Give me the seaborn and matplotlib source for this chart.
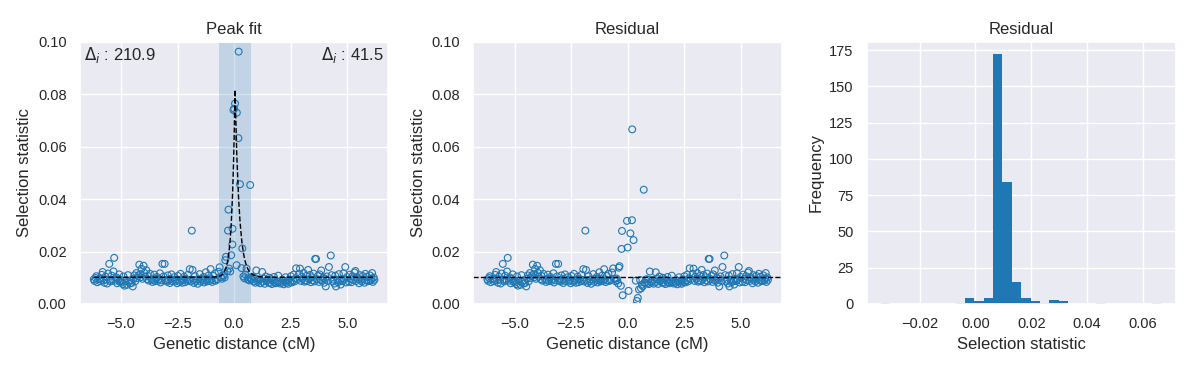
import numpy as np
import pandas as pd
import matplotlib
matplotlib.use("Agg")
import matplotlib.pyplot as plt
from matplotlib.ticker import MultipleLocator
import seaborn as sns

# genetic distance (cM) and selection statistic
dist_left = [
    -6.20, -6.17, -6.12, -6.09, -6.05, -5.97, -5.92, -5.89, -5.85,
    -5.81, -5.77, -5.73, -5.69, -5.64, -5.61, -5.57, -5.52, -5.48, -5.45,
    -5.41, -5.36, -5.33, -5.30, -5.25, -5.20, -5.17, -5.13, -5.08, -5.05,
    -5.01, -4.97, -4.92, -4.89, -4.85, -4.81, -4.73, -4.69, -4.65,
    -4.60, -4.57, -4.53, -4.48, -4.45, -4.41, -4.37, -4.32, -4.29, -4.25,
    -4.19, -4.16, -4.13, -4.09, -4.05, -4.00, -3.97, -3.93, -3.88, -3.85,
    -3.81, -3.77, -3.72, -3.65, -3.61, -3.56, -3.53, -3.49, -3.44,
    -3.41, -3.37, -3.33, -3.28, -3.25, -3.21, -3.17, -3.12, -3.07, -3.04,
    -3.01, -2.96, -2.93, -2.89, -2.84, -2.81, -2.77, -2.73, -2.65,
    -2.61, -2.57, -2.52, -2.49, -2.40, -2.37, -2.33, -2.29, -2.24,
    -2.21, -2.17, -2.13, -2.08, -2.05, -2.01, -1.96, -1.93, -1.87, -1.84,
    -1.80, -1.77, -1.73, -1.69, -1.64, -1.61, -1.52, -1.49, -1.45,
    -1.41, -1.36, -1.33, -1.29, -1.25, -1.20, -1.17, -1.13, -1.08, -1.04,
    -1.01, -0.97, -0.92, -0.89, -0.85, -0.81, -0.76, -0.69, -0.64,
]
stat_left = [
    0.0094, 0.0088, 0.0099, 0.0106, 0.0083, 0.0095, 0.0087, 0.0096, 0.0111,
    0.0122, 0.0090, 0.0081, 0.0104, 0.0093, 0.0078, 0.0116, 0.0153, 0.0092, 0.0086,
    0.0108, 0.0092, 0.0124, 0.0176, 0.0089, 0.0101, 0.0079, 0.0095, 0.0113, 0.0084,
    0.0091, 0.0082, 0.0076, 0.0105, 0.0070, 0.0088, 0.0073, 0.0110, 0.0085,
    0.0078, 0.0091, 0.0080, 0.0067, 0.0096, 0.0109, 0.0087, 0.0118, 0.0099, 0.0106,
    0.0150, 0.0114, 0.0102, 0.0134, 0.0096, 0.0146, 0.0119, 0.0104, 0.0129, 0.0095,
    0.0107, 0.0089, 0.0115, 0.0094, 0.0084, 0.0092, 0.0112, 0.0087, 0.0096,
    0.0103, 0.0088, 0.0095, 0.0117, 0.0082, 0.0090, 0.0153, 0.0105, 0.0153, 0.0089,
    0.0092, 0.0085, 0.0109, 0.0091, 0.0080, 0.0096, 0.0113, 0.0087, 0.0102,
    0.0086, 0.0093, 0.0079, 0.0107, 0.0084, 0.0115, 0.0090, 0.0081, 0.0094,
    0.0104, 0.0083, 0.0095, 0.0088, 0.0111, 0.0092, 0.0133, 0.0086, 0.0280, 0.0130,
    0.0091, 0.0080, 0.0106, 0.0087, 0.0093, 0.0077, 0.0114, 0.0085, 0.0096,
    0.0089, 0.0103, 0.0082, 0.0091, 0.0121, 0.0086, 0.0094, 0.0108, 0.0088, 0.0133,
    0.0095, 0.0084, 0.0107, 0.0090, 0.0116, 0.0089, 0.0094, 0.0123, 0.0140,
]
dist_peak = [
    -0.58, -0.54, -0.50, -0.46, -0.42, -0.39, -0.36, -0.30, -0.27, -0.25,
    -0.22, -0.17, -0.13, -0.08, -0.07, -0.03, 0.00, 0.04, 0.11, 0.12,
    0.19, 0.20, 0.26, 0.33, 0.36, 0.41, 0.45, 0.50, 0.55, 0.59,
    0.63, 0.67, 0.71, 0.74,
]
stat_peak = [
    0.0102, 0.0096, 0.0110, 0.0108, 0.0101, 0.0167, 0.0180, 0.0125, 0.0280, 0.0360,
    0.0135, 0.0124, 0.0186, 0.0227, 0.0287, 0.0740, 0.0745, 0.0765, 0.0148, 0.0730,
    0.0633, 0.0963, 0.0457, 0.0137, 0.0212, 0.0105, 0.0098, 0.0112, 0.0135, 0.0094,
    0.0101, 0.0090, 0.0454, 0.0097,
]
dist_right = [
    0.78, 0.82, 0.86, 0.91, 0.94, 0.98, 1.03, 1.06, 1.10, 1.15,
    1.24, 1.27, 1.31, 1.35, 1.40, 1.43, 1.47, 1.52, 1.55,
    1.59, 1.64, 1.67, 1.71, 1.76, 1.79, 1.83, 1.91, 1.95,
    2.00, 2.03, 2.12, 2.15, 2.19, 2.24, 2.27, 2.31, 2.36,
    2.39, 2.43, 2.48, 2.51, 2.55, 2.60, 2.63, 2.67, 2.71, 2.74,
    2.79, 2.87, 2.91, 2.95, 2.99, 3.03, 3.07, 3.11, 3.15,
    3.19, 3.23, 3.27, 3.31, 3.35, 3.39, 3.43, 3.47, 3.51, 3.55,
    3.58, 3.62, 3.66, 3.71, 3.75, 3.78, 3.82, 3.85, 3.90, 3.94,
    3.98, 4.02, 4.05, 4.10, 4.14, 4.19, 4.27, 4.31, 4.35,
    4.39, 4.43, 4.47, 4.50, 4.55, 4.59, 4.63, 4.67, 4.71, 4.75,
    4.79, 4.83, 4.87, 4.91, 4.95, 4.99, 5.07, 5.11, 5.15,
    5.19, 5.23, 5.27, 5.32, 5.36, 5.40, 5.44, 5.48, 5.52, 5.56,
    5.60, 5.64, 5.68, 5.76, 5.80, 5.84, 5.88, 5.92, 5.96,
    6.00, 6.04, 6.07, 6.10, 6.13, 6.17, 6.20,
]
stat_right = [
    0.0092, 0.0104, 0.0086, 0.0099, 0.0081, 0.0128, 0.0090, 0.0084, 0.0094, 0.0079,
    0.0122, 0.0085, 0.0096, 0.0077, 0.0105, 0.0088, 0.0091, 0.0082, 0.0100,
    0.0080, 0.0094, 0.0076, 0.0089, 0.0103, 0.0083, 0.0079, 0.0086, 0.0108,
    0.0084, 0.0078, 0.0081, 0.0091, 0.0075, 0.0087, 0.0102, 0.0080, 0.0089,
    0.0077, 0.0093, 0.0085, 0.0106, 0.0082, 0.0090, 0.0112, 0.0086, 0.0098, 0.0136,
    0.0094, 0.0115, 0.0135, 0.0088, 0.0104, 0.0096, 0.0118, 0.0085, 0.0090,
    0.0107, 0.0087, 0.0130, 0.0094, 0.0111, 0.0083, 0.0102, 0.0090, 0.0116, 0.0086,
    0.0172, 0.0172, 0.0095, 0.0108, 0.0084, 0.0113, 0.0091, 0.0128, 0.0089, 0.0100,
    0.0081, 0.0096, 0.0067, 0.0105, 0.0088, 0.0141, 0.0185, 0.0110, 0.0086,
    0.0093, 0.0078, 0.0108, 0.0067, 0.0092, 0.0083, 0.0114, 0.0089, 0.0074, 0.0095,
    0.0087, 0.0117, 0.0094, 0.0141, 0.0082, 0.0103, 0.0085, 0.0112, 0.0096,
    0.0083, 0.0106, 0.0091, 0.0120, 0.0126, 0.0088, 0.0102, 0.0095, 0.0079, 0.0110,
    0.0093, 0.0086, 0.0107, 0.0081, 0.0115, 0.0090, 0.0104, 0.0087, 0.0089,
    0.0109, 0.0089, 0.0096, 0.0118, 0.0084, 0.0101, 0.0092,
]
assert len(dist_left) == len(stat_left)
assert len(dist_peak) == len(stat_peak)
assert len(dist_right) == len(stat_right)

# fitted peak model (two-sided exponential on a baseline)
fit_base = 0.0102
fit_amp = 0.0715
fit_center = 0.04
fit_rate_left = 7.5
fit_rate_right = 5.5
peak_lo, peak_hi = -0.65, 0.74
delta_left, delta_right = 210.9, 41.5

df = pd.DataFrame({
    'dist': dist_left + dist_peak + dist_right,
    'stat': stat_left + stat_peak + stat_right,
}).sort_values('dist')
d = df['dist'].to_numpy() - fit_center
rate = np.where(d < 0, fit_rate_left, fit_rate_right)
df['fit'] = fit_base + fit_amp * np.exp(-rate * np.abs(d))
df['resid'] = df['stat'] - df['fit'] + fit_base

sns.set_theme(style="darkgrid")
plt.rcParams['font.family'] = ['Liberation Sans', 'DejaVu Sans']
plt.rcParams['xtick.labelsize'] = 10.5
plt.rcParams['ytick.labelsize'] = 10.5
blue = '#1f77b4'

fig, axes = plt.subplots(1, 3, figsize=(11.91, 3.68), dpi=100)
fig.subplots_adjust(left=0.067, right=0.987, bottom=0.174, top=0.886, wspace=0.275)

# 1. peak fit
ax = axes[0]
ax.axvspan(peak_lo, peak_hi, color=blue, alpha=0.2, lw=0)
sns.scatterplot(data=df, x='dist', y='stat', ax=ax, s=24, facecolor='none',
                edgecolor=blue, linewidth=0.8)
sns.lineplot(data=df, x='dist', y='fit', ax=ax, color='black', lw=1,
             linestyle='--', estimator=None)
ax.set_ylim(0, 0.1)
ax.xaxis.set_major_locator(MultipleLocator(2.5))
ax.set_title("Peak fit")
ax.set_xlabel("Genetic distance (cM)")
ax.set_ylabel("Selection statistic")
ax.text(0.015, 0.95, r'$\Delta_i$ : %.1f' % delta_left, transform=ax.transAxes,
        ha='left', va='center', fontsize=12)
ax.text(0.985, 0.95, r'$\Delta_i$ : %.1f' % delta_right, transform=ax.transAxes,
        ha='right', va='center', fontsize=12)

# 2. residual scatter
ax = axes[1]
sns.scatterplot(data=df, x='dist', y='resid', ax=ax, s=24, facecolor='none',
                edgecolor=blue, linewidth=0.8)
ax.axhline(fit_base, color='black', lw=1, linestyle='--')
ax.set_ylim(0, 0.1)
ax.xaxis.set_major_locator(MultipleLocator(2.5))
ax.set_title("Residual")
ax.set_xlabel("Genetic distance (cM)")
ax.set_ylabel("Selection statistic")

# 3. residual histogram
ax = axes[2]
sns.histplot(data=df, x='resid', bins=30, ax=ax, color=blue, alpha=1, linewidth=0)
ax.set_title("Residual")
ax.set_xlabel("Selection statistic")
ax.set_ylabel("Frequency")

plt.savefig("out.png", dpi=100)
